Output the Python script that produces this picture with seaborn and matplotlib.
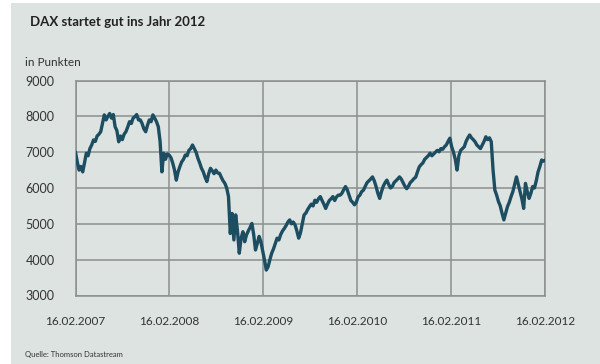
import matplotlib
matplotlib.use("Agg")
import matplotlib.pyplot as plt
import matplotlib.patches as mpatches
import seaborn as sns
import pandas as pd

# ---------------- data (weekly DAX closes) ----------------
start_date = "2007-02-16"
dax_values = [
    7000, 6720, 6500, 6600, 6450, 6700, 6970, 6900, 7100, 7200,
    7340, 7300, 7450, 7500, 7570, 7800, 8040, 7900, 8000, 8080,
    7950, 8050, 7710, 7600, 7290, 7450, 7350, 7500, 7570, 7700,
    7850, 7800, 7950, 7990, 8050, 7900, 7900, 7800, 7650, 7570,
    7750, 7900, 7850, 8040, 7950, 7850, 7710, 7300, 6450, 6970,
    6800, 6950, 6920, 6850, 6700, 6500, 6220, 6450, 6600, 6730,
    6800, 6920, 6900, 7050, 7100, 7200, 7100, 7000, 6830, 6700,
    6550, 6450, 6300, 6180, 6400, 6550, 6480, 6400, 6500, 6420,
    6410, 6300, 6200, 6130, 6000, 5760, 4730, 5290, 4550, 5250,
    4800, 4180, 4600, 4780, 4500, 4690, 4800, 4900, 5010, 4700,
    4270, 4450, 4650, 4500, 4250, 3990, 3710, 3800, 4000, 4180,
    4300, 4450, 4600, 4550, 4700, 4800, 4870, 4950, 5050, 5110,
    5000, 5050, 4970, 4800, 4600, 4750, 5000, 5250, 5300, 5400,
    5480, 5550, 5500, 5660, 5600, 5700, 5760, 5650, 5550, 5430,
    5550, 5650, 5700, 5760, 5650, 5750, 5800, 5800, 5850, 5950,
    6040, 5950, 5800, 5650, 5600, 5530, 5600, 5750, 5800, 5900,
    5940, 6050, 6150, 6200, 6250, 6310, 6200, 6040, 5850, 5710,
    5900, 6050, 6150, 6220, 6100, 6000, 6040, 6150, 6200, 6250,
    6310, 6250, 6150, 6050, 5980, 6050, 6150, 6200, 6260, 6300,
    6450, 6590, 6650, 6700, 6800, 6850, 6900, 6970, 6900, 6950,
    7000, 7050, 7010, 7100, 7080, 7150, 7200, 7300, 7390, 7150,
    7000, 6800, 6500, 6900, 7050, 7100, 7150, 7300, 7400, 7480,
    7400, 7350, 7290, 7200, 7150, 7100, 7200, 7300, 7430, 7350,
    7400, 7290, 6500, 5940, 5800, 5620, 5500, 5290, 5110, 5300,
    5480, 5600, 5760, 5900, 6100, 6310, 6100, 5900, 5700, 5430,
    6130, 5900, 5710, 5850, 6040, 6000, 6200, 6450, 6600, 6780,
    6750, 6780,
]
x_tick_dates = ["2007-02-16", "2008-02-16", "2009-02-16",
                "2010-02-16", "2011-02-16", "2012-02-16"]
x_tick_labels = ["16.02.2007", "16.02.2008", "16.02.2009",
                 "16.02.2010", "16.02.2011", "16.02.2012"]
y_ticks = [3000, 4000, 5000, 6000, 7000, 8000, 9000]

title = "DAX startet gut ins Jahr 2012"
unit_label = "in Punkten"
source = "Quelle: Thomson Datastream"

df = pd.DataFrame({
    "date": pd.date_range(start_date, periods=len(dax_values), freq="7D"),
    "value": dax_values,
})

# ---------------- style ----------------
BG = "#dde3e1"
GRID = "#8b908f"
LINE = "#1c4d61"
TXT = "#333333"

sns.set_style("white")
plt.rcParams["font.family"] = ["Lato", "DejaVu Sans"]

fig = plt.figure(figsize=(6.0, 3.64), dpi=100)
fig.patch.set_facecolor("white")
fig.patches.append(mpatches.Rectangle((11 / 600, 0), 1, 1 - 3 / 364,
                                      transform=fig.transFigure,
                                      facecolor=BG, edgecolor="none", zorder=-10))

ax = fig.add_axes([75.5 / 600, 1 - 295.5 / 364, (545 - 75.5) / 600, (295.5 - 80.5) / 364])
ax.set_facecolor(BG)

sns.lineplot(data=df, x="date", y="value", ax=ax, color=LINE,
             linewidth=2.4, zorder=3, solid_joinstyle="round")

ax.set_xlim(pd.Timestamp(x_tick_dates[0]), pd.Timestamp(x_tick_dates[-1]))
ax.set_ylim(y_ticks[0], y_ticks[-1])
ax.set_xticks([pd.Timestamp(d) for d in x_tick_dates])
ax.set_xticklabels(x_tick_labels)
ax.set_yticks(y_ticks)
ax.set_yticklabels([str(v) for v in y_ticks])

ax.grid(True, color=GRID, linewidth=1.1, zorder=1)
for s in ax.spines.values():
    s.set_color(GRID)
    s.set_linewidth(1.1)
ax.tick_params(axis="both", length=0, colors=TXT)
ax.tick_params(axis="x", pad=15, labelsize=8.5)
ax.tick_params(axis="y", pad=15, labelsize=9)
ax.set_xlabel("")
ax.set_ylabel("")

fig.text(30 / 600, 1 - 22 / 364, title, fontsize=9.5, fontweight="bold",
         color="#222222", va="center", ha="left")
fig.text(25 / 600, 1 - 62.5 / 364, unit_label, fontsize=8.5, color=TXT,
         va="center", ha="left")
fig.text(25 / 600, 1 - 354 / 364, source, fontsize=5.5, color=TXT,
         va="center", ha="left")

fig.savefig("out.png", dpi=100, facecolor=fig.get_facecolor())
